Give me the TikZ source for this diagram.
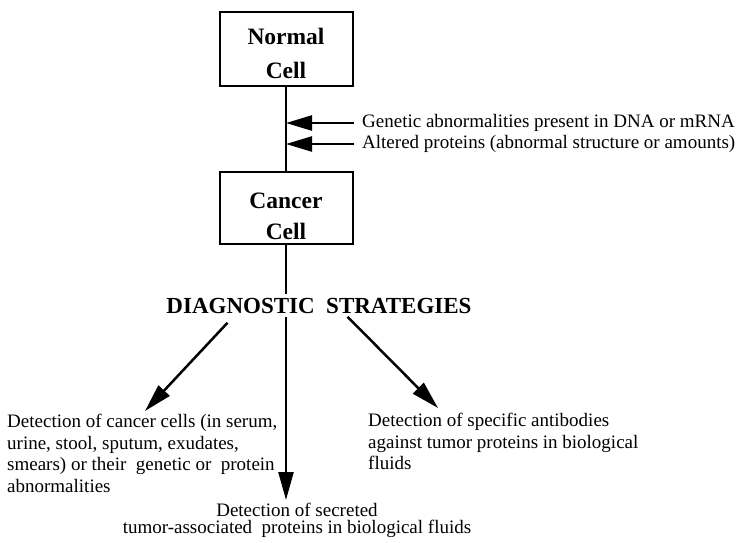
\documentclass[tikz,border=0pt]{standalone}
\usepackage{fontspec}
\setmainfont{Liberation Serif}
\usetikzlibrary{arrows.meta}
\begin{document}
\begin{tikzpicture}[x=1pt,y=-1pt, every node/.style={font=\fontsize{19}{21.5}\selectfont},
  cell/.style={draw,line width=2pt,minimum width=133pt,minimum height=74pt,align=center,font=\fontsize{23.5}{34}\selectfont\bfseries},
  para/.style={inner sep=0pt,align=left},
  arr/.style={line width=2.5pt,-{Triangle[length=28pt,width=15pt]}},
  trunk/.style={line width=2.6pt}]
\useasboundingbox (0,0) rectangle (738,542);
\node[cell] (normal) at (286,49) {\rule{0pt}{26pt}Normal\\Cell};
\node[cell,minimum height=72pt,font=\fontsize{23.5}{31}\selectfont\bfseries] (cancer) at (286,208) {\rule{0pt}{32pt}Cancer\\Cell};
\draw[trunk] (normal) -- (cancer);
% changes on the way
\node[anchor=west,inner xsep=8pt,inner ysep=0pt] (gen) at (354,123) {Genetic abnormalities present in DNA or mRNA};
\node[anchor=west,inner xsep=8pt,inner ysep=0pt] (alt) at (354,144) {Altered proteins (abnormal structure or amounts)};
\draw[arr,-{Triangle[length=26pt,width=15pt]}] (gen.west) -- (gen.west -| normal.south);
\draw[arr,-{Triangle[length=26pt,width=15pt]}] (alt.west) -- (alt.west -| normal.south);
\node[anchor=base,font=\fontsize{23}{26}\selectfont\bfseries] (diag) at (319,313) {DIAGNOSTIC\ \ STRATEGIES};
\draw[trunk] (cancer) -- (cancer.south |- diag.north);
% strategies
\node[para,anchor=north west] (cells) at (7,414) {Detection of cancer cells (in serum,\\urine, stool, sputum, exudates,\\smears) or their\ \ genetic or\ \ protein\\abnormalities};
\node[para,anchor=north west] (anti) at (368,413) {Detection of specific antibodies\\against tumor proteins in biological\\fluids};
\node[para,align=center,anchor=north,font=\fontsize{19}{17}\selectfont] (secr) at (297,503) {Detection of secreted\\tumor-associated\ \ proteins in biological fluids};
\draw[arr] ([xshift=-91.5pt,yshift=-6pt]diag.south) -- ([xshift=138pt,yshift=3pt]cells.north west);
\draw[arr] (diag.south -| cancer.south) -- ([yshift=3pt]cancer.south |- secr.north);
\draw[arr] ([xshift=28.5pt]diag.south) -- ([xshift=70pt,yshift=5pt]anti.north west);
\end{tikzpicture}
\end{document}
